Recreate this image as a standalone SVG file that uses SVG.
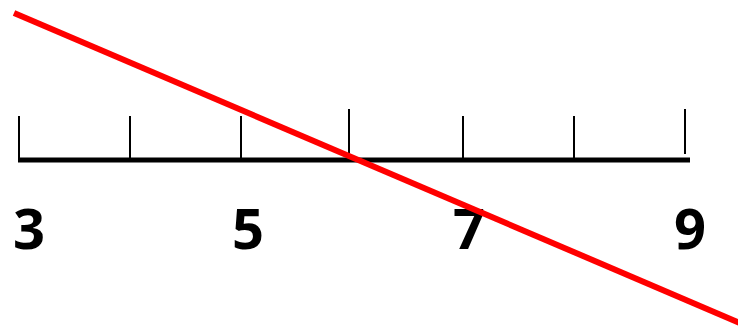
<svg xmlns="http://www.w3.org/2000/svg" width="738" height="328" viewBox="0 0 738 328">
<style>
.tick{stroke:#000;stroke-width:2}
.lbl{font-family:"Open Sans","Liberation Sans",sans-serif;font-weight:700;font-size:56px;fill:#000;text-anchor:middle}
</style>
<rect width="738" height="328" fill="#fff"/>
<g id="axis">
<line x1="18" y1="160" x2="690" y2="160" stroke="#000" stroke-width="5"/>
<line class="tick" x1="19" y1="116" x2="19" y2="160"/>
<line class="tick" x1="130" y1="116" x2="130" y2="160"/>
<line class="tick" x1="241" y1="116" x2="241" y2="160"/>
<line class="tick" x1="349" y1="109" x2="349" y2="160"/>
<line class="tick" x1="463" y1="116" x2="463" y2="160"/>
<line class="tick" x1="574" y1="116" x2="574" y2="160"/>
<line class="tick" x1="685" y1="109" x2="685" y2="154"/>
</g>
<g id="labels">
<text class="lbl" x="29" y="249">3</text>
<text class="lbl" x="248" y="249">5</text>
<text class="lbl" x="469" y="249">7</text>
<text class="lbl" x="690" y="249">9</text>
</g>
<g id="connectors">
<line x1="14" y1="13" x2="740" y2="323" stroke="#ff0000" stroke-width="6"/>
</g>
</svg>
